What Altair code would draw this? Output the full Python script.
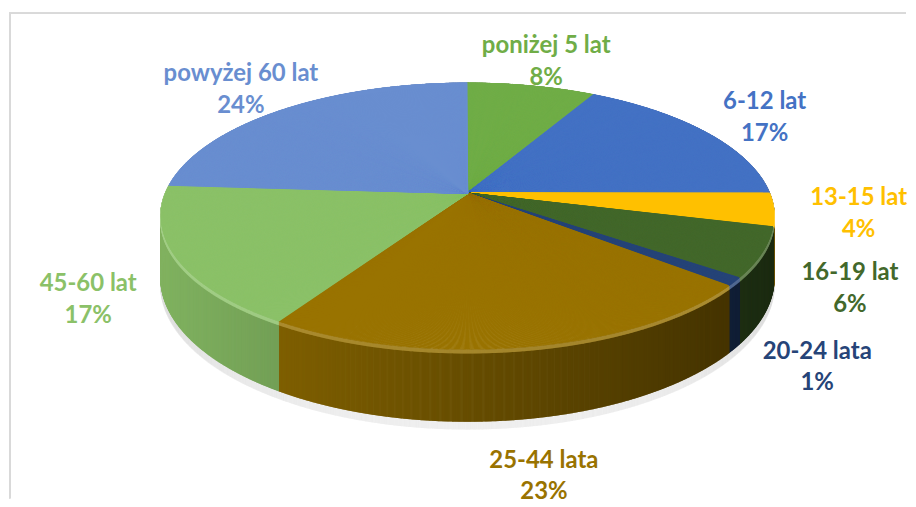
import altair as alt
import pandas as pd

# ---- data ----
categories = ["poniżej 5 lat", "6-12 lat", "13-15 lat", "16-19 lat",
              "20-24 lata", "25-44 lata", "45-60 lat", "powyżej 60 lat"]
shares = [8, 17, 4, 6, 1, 23, 17, 24]
colors = ["#70AD47", "#4472C4", "#FFC000", "#43682B",
          "#264478", "#997300", "#8BC168", "#698ED0"]

# ---- geometry / style constants (3-D perspective look) ----
W, H = 900, 491
AX, BY = 303.0, 130.0          # pixel size of one unit in x / y
CX, CY = 460.0, 185.0          # pie apex inside the plot area
K = 0.1716                     # perspective factor
DEP = 0.4615                   # side depth (y units)
RL = 1.27                      # label radius factor
STEP = 0.04                    # angular sampling (percent units)

xdom = [-CX / AX, (W - CX) / AX]
ydom = [-(H - CY) / BY, CY / BY]

def rgb(h):
    return int(h[1:3], 16), int(h[3:5], 16), int(h[5:7], 16)

table = pd.DataFrame({
    "cat": categories,
    "share": shares,
    "idx": list(range(len(categories))),
    "r": [rgb(c)[0] for c in colors],
    "g": [rgb(c)[1] for c in colors],
    "b": [rgb(c)[2] for c in colors],
})

xs = alt.Scale(domain=xdom, nice=False, zero=False)
ys = alt.Scale(domain=ydom, nice=False, zero=False)
cscale = alt.Scale(domain=categories, range=colors)

base = (
    alt.Chart(table)
    .transform_window(end="sum(share)", sort=[alt.SortField("idx")],
                      frame=[None, 0])
    .transform_calculate(start="datum.end - datum.share")
)

rays = (
    base.transform_calculate(ts=f"sequence(datum.start, datum.end, {STEP})")
    .transform_flatten(["ts"])
    .transform_calculate(th="datum.ts * 2 * PI / 100")
    .transform_calculate(w=f"1 + {K} * cos(datum.th)", z0="0")
    .transform_calculate(
        px="sin(datum.th) / datum.w",
        py="cos(datum.th) / datum.w",
        sb=f"cos(datum.th) / datum.w - {DEP} / datum.w",
        f="0.67 - 0.25 * sin(datum.th) / datum.w",
    )
    .transform_calculate(
        sh="datum.sb - 0.06",
        rim="datum.py - 0.03",
        sc="'rgb(' + round(datum.r * datum.f) + ',' + round(datum.g * datum.f) + ',' + round(datum.b * datum.f) + ')'",
        rc="'rgb(' + round(datum.r + (255 - datum.r) * 0.2) + ',' + round(datum.g + (255 - datum.g) * 0.2) + ',' + round(datum.b + (255 - datum.b) * 0.2) + ')'",
    )
)

shadow = rays.mark_rule(strokeWidth=1.6, opacity=0.35).encode(
    x=alt.X("px:Q", scale=xs, axis=None),
    y=alt.Y("sb:Q", scale=ys, axis=None),
    y2="sh:Q",
    stroke=alt.value("#e0e0e0"),
)

side = rays.mark_rule(strokeWidth=1.6).encode(
    x=alt.X("px:Q", scale=xs, axis=None),
    y=alt.Y("py:Q", scale=ys, axis=None),
    y2="sb:Q",
    stroke=alt.Stroke("sc:N", scale=None),
)

rim = rays.mark_rule(strokeWidth=1.6, opacity=0.75).encode(
    x=alt.X("px:Q", scale=xs, axis=None),
    y=alt.Y("py:Q", scale=ys, axis=None),
    y2="rim:Q",
    stroke=alt.Stroke("rc:N", scale=None),
)

top = rays.mark_rule(strokeWidth=1.4).encode(
    x=alt.X("z0:Q", scale=xs, axis=None),
    y=alt.Y("z0:Q", scale=ys, axis=None),
    x2="px:Q",
    y2="py:Q",
    color=alt.Color("cat:N", scale=cscale, legend=None),
)

labels = (
    base.transform_calculate(mid="(datum.start + datum.share / 2) * 2 * PI / 100")
    .transform_calculate(
        lw=f"1 + {K} * {RL} * cos(datum.mid)",
        dfac="clamp(-3 * cos(datum.mid) - 1, 0, 1)",
    )
    .transform_calculate(
        lx=f"{RL} * sin(datum.mid) / datum.lw",
        ly=f"{RL} * cos(datum.mid) / datum.lw - {DEP} * datum.dfac / datum.lw",
        txt="datum.cat + '\\n' + datum.share + '%'",
    )
    .mark_text(font="Lato", fontWeight="bold", fontSize=24, lineHeight=32,
               lineBreak="\n", align="center", baseline="middle", dy=-16)
    .encode(
        x=alt.X("lx:Q", scale=xs, axis=None),
        y=alt.Y("ly:Q", scale=ys, axis=None),
        text="txt:N",
        color=alt.Color("cat:N", scale=cscale, legend=None),
    )
)

frame_top = alt.Chart(table).mark_rule(color="#d9d9d9", strokeWidth=1.5).encode(
    x=alt.value(0), x2=alt.value(W), y=alt.value(4.5))
frame_left = alt.Chart(table).mark_rule(color="#d9d9d9", strokeWidth=1.5).encode(
    x=alt.value(0.75), y=alt.value(4.5), y2=alt.value(H))

chart = (
    alt.layer(shadow, side, rim, top, labels, frame_top, frame_left)
    .properties(width=W, height=H, padding=0)
    .configure_view(stroke=None)
)

chart.save("out.html", embed_options={"renderer": "svg", "actions": False})
